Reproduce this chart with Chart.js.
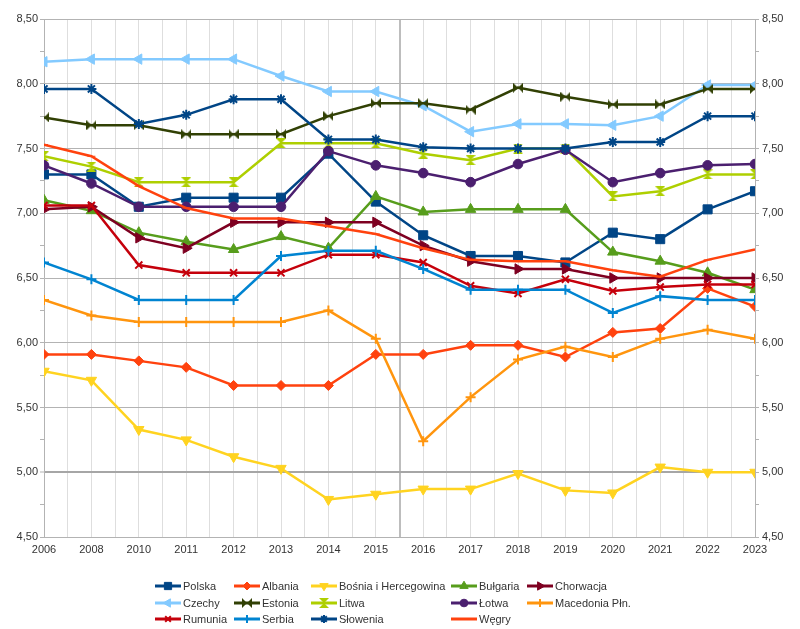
<!DOCTYPE html>
<html lang="pl">
<head>
<meta charset="utf-8">
<title>Wykres</title>
<script src="https://cdn.jsdelivr.net/npm/chart.js@4.4.1/dist/chart.umd.min.js"></script>
<style>
  body { margin: 0; background: #fff; font-family: "Liberation Sans", Arial, sans-serif; }
  #wrap { position: relative; width: 800px; height: 629px; }
  #chart { display: block; }
  #legend { position: absolute; left: 0; top: 0; width: 800px; height: 629px; pointer-events: none; font-size: 11px; color: #333; }
  .item { position: absolute; display: flex; align-items: center; height: 14px; white-space: nowrap; }
  .item canvas { margin-right: 2px; }
</style>
</head>
<body>
<div id="wrap">
  <canvas id="chart" width="800" height="560"></canvas>
  <div id="legend"></div>
</div>
<script>
const years = ["2006", "2008", "2010", "2011", "2012", "2013", "2014", "2015",
  "2016", "2017", "2018", "2019", "2020", "2021", "2022", "2023"];

const polska    = [7.30, 7.30, 7.05, 7.12, 7.12, 7.12, 7.46, 7.09, 6.83, 6.67, 6.67, 6.62, 6.85, 6.80, 7.03, 7.17];
const albania   = [5.91, 5.91, 5.86, 5.81, 5.67, 5.67, 5.67, 5.91, 5.91, 5.98, 5.98, 5.89, 6.08, 6.11, 6.42, 6.28];
const bosnia    = [5.78, 5.71, 5.33, 5.25, 5.12, 5.03, 4.79, 4.83, 4.87, 4.87, 4.99, 4.86, 4.84, 5.04, 5.00, 5.00];
const bulgaria  = [7.10, 7.02, 6.85, 6.78, 6.72, 6.82, 6.73, 7.13, 7.01, 7.03, 7.03, 7.03, 6.70, 6.63, 6.54, 6.41];
const chorwacja = [7.03, 7.05, 6.81, 6.73, 6.93, 6.93, 6.93, 6.93, 6.75, 6.63, 6.57, 6.57, 6.50, 6.50, 6.50, 6.50];
const czechy    = [8.17, 8.19, 8.19, 8.19, 8.19, 8.06, 7.94, 7.94, 7.83, 7.63, 7.69, 7.69, 7.68, 7.75, 7.99, 7.99];
const estonia   = [7.74, 7.68, 7.68, 7.61, 7.61, 7.61, 7.75, 7.85, 7.85, 7.80, 7.97, 7.90, 7.84, 7.84, 7.96, 7.96];
const litwa     = [7.44, 7.36, 7.24, 7.24, 7.24, 7.54, 7.54, 7.54, 7.46, 7.41, 7.50, 7.50, 7.13, 7.17, 7.30, 7.30];
const lotwa     = [7.37, 7.23, 7.05, 7.05, 7.05, 7.05, 7.48, 7.37, 7.31, 7.24, 7.38, 7.49, 7.24, 7.31, 7.37, 7.38];
const macedonia = [6.33, 6.21, 6.16, 6.16, 6.16, 6.16, 6.25, 6.03, 5.24, 5.58, 5.87, 5.97, 5.89, 6.03, 6.10, 6.03];
const rumunia   = [7.06, 7.06, 6.60, 6.54, 6.54, 6.54, 6.68, 6.68, 6.62, 6.44, 6.38, 6.49, 6.40, 6.43, 6.45, 6.45];
const serbia    = [6.62, 6.49, 6.33, 6.33, 6.33, 6.67, 6.71, 6.71, 6.57, 6.41, 6.41, 6.41, 6.23, 6.36, 6.33, 6.33];
const slowenia  = [7.96, 7.96, 7.69, 7.76, 7.88, 7.88, 7.57, 7.57, 7.51, 7.50, 7.50, 7.50, 7.55, 7.55, 7.75, 7.75];
const wegry     = [7.53, 7.44, 7.21, 7.04, 6.96, 6.96, 6.90, 6.84, 6.73, 6.64, 6.63, 6.63, 6.56, 6.51, 6.64, 6.72];

// small canvases for the two markers Chart.js has no style for
function bowtie(color, s) {
  const c = document.createElement("canvas");
  c.width = s; c.height = s;
  const g = c.getContext("2d");
  g.fillStyle = color;
  g.beginPath();
  g.moveTo(0, 0); g.lineTo(s / 2, s / 2); g.lineTo(0, s); g.closePath();
  g.moveTo(s, 0); g.lineTo(s / 2, s / 2); g.lineTo(s, s); g.closePath();
  g.fill();
  return c;
}
function hourglass(color, s) {
  const c = document.createElement("canvas");
  c.width = s; c.height = s;
  const g = c.getContext("2d");
  g.fillStyle = color;
  g.beginPath();
  g.moveTo(0, 0); g.lineTo(s, 0); g.lineTo(s / 2, s / 2); g.closePath();
  g.moveTo(0, s); g.lineTo(s, s); g.lineTo(s / 2, s / 2); g.closePath();
  g.fill();
  return c;
}

const series = [
  { label: "Polska", data: polska, color: "#004586", style: "rect", radius: 6.4 },
  { label: "Albania", data: albania, color: "#ff420e", style: "rectRot", radius: 5 },
  { label: "Bośnia i Hercegowina", data: bosnia, color: "#ffd320", style: "triangle", rot: 180, radius: 6 },
  { label: "Bułgaria", data: bulgaria, color: "#579d1c", style: "triangle", radius: 6 },
  { label: "Chorwacja", data: chorwacja, color: "#7e0021", style: "triangle", rot: 90, radius: 6 },
  { label: "Czechy", data: czechy, color: "#83caff", style: "triangle", rot: -90, radius: 6 },
  { label: "Estonia", data: estonia, color: "#314004", style: bowtie("#314004", 10), radius: 5 },
  { label: "Litwa", data: litwa, color: "#aecf00", style: hourglass("#aecf00", 10), radius: 5 },
  { label: "Łotwa", data: lotwa, color: "#4b1f6f", style: "circle", radius: 4.8 },
  { label: "Macedonia Płn.", data: macedonia, color: "#ff950e", style: "cross", radius: 5 },
  { label: "Rumunia", data: rumunia, color: "#c5000b", style: "crossRot", radius: 5 },
  { label: "Serbia", data: serbia, color: "#0084d1", style: "cross", radius: 5 },
  { label: "Słowenia", data: slowenia, color: "#004586", style: "star", radius: 5 },
  { label: "Węgry", data: wegry, color: "#ff420e", style: "line", radius: 4 }
];

const font = { family: "'Liberation Sans', Arial, sans-serif", size: 11 };
const textColor = "#333333";

function yLabel(v) {
  if (Math.abs(v * 2 - Math.round(v * 2)) > 1e-6) return "";
  return v.toFixed(2).replace(".", ",");
}
function yGridColor(ctx) {
  const v = ctx.tick ? ctx.tick.value : null;
  if (v === null) return "#b3b3b3";
  if (Math.abs(v - 5) < 1e-6) return "#a6a6a6";
  if (Math.abs(v * 2 - Math.round(v * 2)) > 1e-6) return "rgba(0,0,0,0)";
  return "#b3b3b3";
}

const ctx = document.getElementById("chart").getContext("2d");
const chart = new Chart(ctx, {
  type: "line",
  data: {
    datasets: series.map((s, i) => ({
      label: s.label,
      data: s.data.map((v, k) => ({ x: k, y: v })),
      borderColor: s.color,
      backgroundColor: s.color,
      borderWidth: 2.5,
      pointStyle: s.style,
      pointRotation: s.rot || 0,
      pointRadius: s.radius,
      pointBorderWidth: typeof s.style === "string" && s.style.indexOf("cross") === 0 || s.style === "star" ? 2 : 1,
      pointBackgroundColor: s.color,
      pointBorderColor: s.color,
      tension: 0,
      order: series.length - i
    }))
  },
  options: {
    responsive: false,
    animation: false,
    layout: { padding: { top: 19, left: 0, right: 0, bottom: 0 } },
    plugins: { legend: { display: false }, tooltip: { enabled: false } },
    scales: {
      x: {
        type: "linear",
        min: 0,
        max: 15,
        ticks: {
          stepSize: 0.5,
          autoSkip: false,
          maxRotation: 0,
          minRotation: 0,
          padding: 6,
          font: font,
          color: textColor,
          callback: (v) => (Number.isInteger(v) ? years[v] : "")
        },
        grid: {
          drawTicks: false,
          color: (c) => (c.tick && c.tick.value === 7.5 ? "#bdbdbd" : "#dedede"),
          lineWidth: (c) => (c.tick && c.tick.value === 7.5 ? 2 : 1)
        },
        border: { color: "#b3b3b3" },
        afterFit: (s) => { s.height = 23; }
      },
      y: {
        position: "left",
        min: 4.5,
        max: 8.5,
        ticks: { stepSize: 0.25, padding: 2, font: font, color: textColor, callback: yLabel },
        grid: {
          color: yGridColor,
          lineWidth: (c) => (c.tick && Math.abs(c.tick.value - 5) < 1e-6 ? 2 : 1),
          tickColor: "#b3b3b3",
          tickWidth: 1,
          tickLength: 4
        },
        border: { color: "#b3b3b3" },
        afterFit: (s) => { s.width = 44; }
      },
      y2: {
        position: "right",
        min: 4.5,
        max: 8.5,
        ticks: { stepSize: 0.25, padding: 3, font: font, color: textColor, callback: yLabel },
        grid: { drawOnChartArea: false, tickColor: "#b3b3b3", tickWidth: 1, tickLength: 4 },
        border: { color: "#b3b3b3" },
        afterFit: (s) => { s.width = 45; }
      }
    }
  }
});

// legend: 5 fixed columns like the original
const legendCols = [155, 234, 311, 451, 527];
const legendRows = [586, 603, 619];
const legendDiv = document.getElementById("legend");
series.forEach((s, i) => {
  const item = document.createElement("div");
  item.className = "item";
  item.style.left = legendCols[i % 5] + "px";
  item.style.top = legendRows[Math.floor(i / 5)] - 7 + "px";
  const c = document.createElement("canvas");
  c.width = 26; c.height = 14;
  const g = c.getContext("2d");
  g.strokeStyle = s.color;
  g.fillStyle = s.color;
  g.lineWidth = 3;
  g.beginPath();
  g.moveTo(0, 7); g.lineTo(26, 7);
  g.stroke();
  if (Chart.helpers && Chart.helpers.drawPoint && s.style !== "line") {
    const bw = typeof s.style === "string" && (s.style.indexOf("cross") === 0 || s.style === "star") ? 2 : 1;
    g.lineWidth = bw;
    Chart.helpers.drawPoint(g, {
      pointStyle: s.style,
      rotation: s.rot || 0,
      radius: s.radius * 0.8,
      borderWidth: bw
    }, 13, 7);
  }
  const t = document.createElement("span");
  t.textContent = s.label;
  item.appendChild(c);
  item.appendChild(t);
  legendDiv.appendChild(item);
});
</script>
</body>
</html>
